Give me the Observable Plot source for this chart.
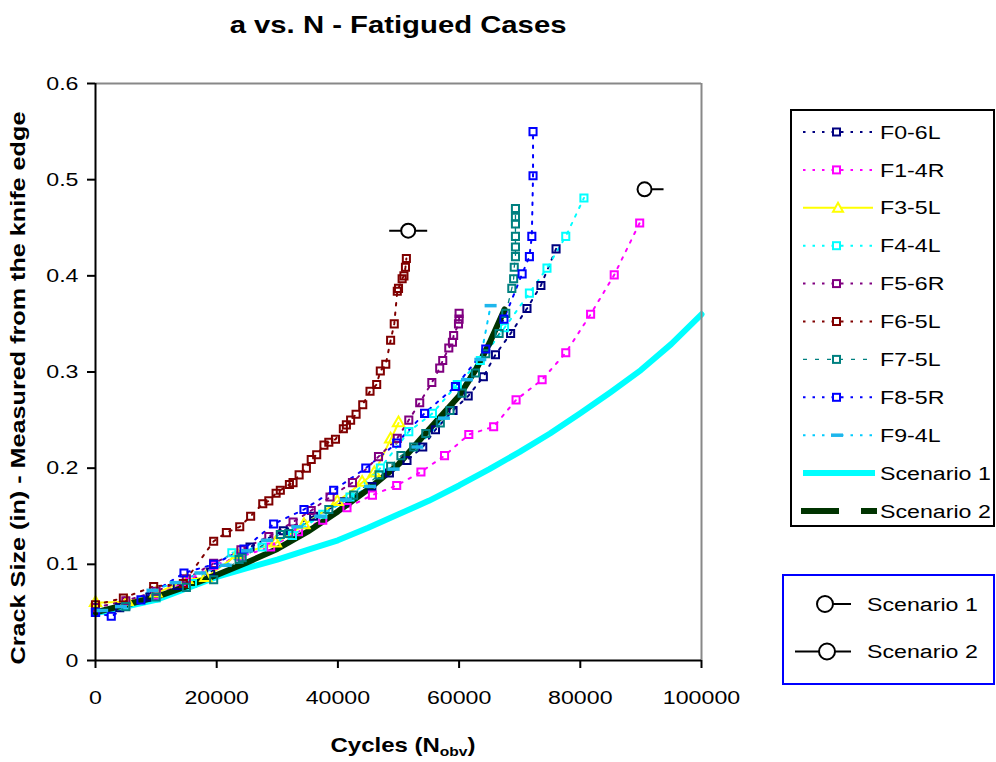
<!DOCTYPE html>
<html><head><meta charset="utf-8">
<script src="https://cdn.jsdelivr.net/npm/d3@7"></script>
<script src="https://cdn.jsdelivr.net/npm/@observablehq/plot@0.6"></script>
<style>
body{margin:0;background:#fff;font-family:"Liberation Sans",Arial,sans-serif;}
#wrap{width:996px;height:762px;position:relative;overflow:hidden;background:#fff;}
#title{height:45px;width:796px;text-align:center;box-sizing:border-box;padding-top:13px;font-size:24px;line-height:24px;font-weight:bold;color:#000;}
#title span{display:inline-block;transform:scaleX(1.22);transform-origin:center;}
#chart svg g[aria-label="x-axis tick"] path, #chart svg g[aria-label="y-axis tick"] path, #chart svg .tick line{stroke-width:2px;stroke:#000;}
</style></head>
<body><div id="wrap"><div id="title"><span>a vs. N - Fatigued Cases</span></div><div id="chart"></div></div>
<script>
// ---------- tick values ----------
const xTicks = [0, 20000, 40000, 60000, 80000, 100000];
const yTicks = [0, 0.1, 0.2, 0.3, 0.4, 0.5, 0.6];

// ---------- measured series [cycles, crack size] ----------
const F0_6L = [[0,0.05],[4000,0.055],[9000,0.066],[13500,0.078],[19000,0.092],[25500,0.118],[31000,0.135],[36000,0.15],[41000,0.165],[45600,0.181],[48500,0.195],[51400,0.208],[54000,0.222],[56100,0.24],[59000,0.26],[61500,0.275],[64000,0.295],[66000,0.318],[68500,0.34],[71200,0.366],[73500,0.39],[76000,0.428]];
const F1_4R = [[0,0.05],[5000,0.057],[10000,0.068],[15000,0.082],[19500,0.099],[24000,0.108],[28900,0.118],[33500,0.134],[37500,0.146],[41500,0.159],[45700,0.172],[49700,0.182],[53700,0.196],[57600,0.213],[61600,0.235],[65700,0.243],[69400,0.271],[73700,0.292],[77600,0.32],[81700,0.36],[85600,0.401],[89800,0.455]];
const F3_5L = [[0,0.06],[5200,0.061],[10000,0.07],[15100,0.084],[18200,0.086],[23400,0.11],[29700,0.122],[34400,0.141],[39900,0.165],[44000,0.185],[46000,0.195],[48700,0.23],[50000,0.247]];
const F4_4L = [[0,0.05],[5000,0.057],[10000,0.065],[16000,0.08],[22500,0.112],[27500,0.118],[32500,0.13],[37500,0.152],[42000,0.17],[47000,0.2],[51700,0.238],[55600,0.257],[59700,0.287],[63500,0.312],[67500,0.346],[71600,0.382],[74500,0.408],[77600,0.441],[80600,0.481]];
const F5_6R = [[0,0.055],[5000,0.062],[10000,0.072],[15000,0.085],[19500,0.101],[24000,0.115],[28600,0.129],[32600,0.144],[35600,0.156],[38700,0.17],[42400,0.185],[46700,0.212],[49800,0.231],[51700,0.25],[53500,0.268],[55500,0.289],[56800,0.304],[57300,0.312],[58300,0.325],[58900,0.331],[59100,0.338],[59900,0.35],[60000,0.355],[60000,0.361]];
const F6_5L = [[0,0.058],[4600,0.065],[9600,0.077],[14500,0.08],[19500,0.124],[21600,0.133],[23800,0.139],[25600,0.15],[27600,0.163],[28600,0.166],[29800,0.174],[30500,0.177],[32000,0.183],[32600,0.185],[33600,0.193],[34800,0.2],[35600,0.209],[36500,0.214],[37700,0.224],[38500,0.227],[39600,0.23],[40900,0.241],[41400,0.245],[42100,0.25],[43000,0.256],[44100,0.266],[45300,0.28],[46400,0.287],[47000,0.301],[47900,0.308],[48700,0.333],[49300,0.35],[49800,0.384],[50000,0.387],[50600,0.397],[50900,0.4],[51150,0.409],[51300,0.418]];
const F7_5L = [[0,0.05],[5000,0.056],[10000,0.066],[15000,0.076],[19500,0.084],[23700,0.105],[24200,0.107],[30500,0.131],[31900,0.132],[38500,0.157],[42600,0.172],[46800,0.193],[48700,0.202],[50400,0.213],[52500,0.222],[54500,0.236],[56900,0.247],[58500,0.26],[60500,0.278],[62700,0.299],[64400,0.319],[66600,0.34],[67700,0.361],[68700,0.387],[69000,0.397],[69100,0.409],[69300,0.42],[69300,0.43],[69300,0.441],[69300,0.454],[69300,0.461],[69300,0.47]];
const F8_5R = [[0,0.05],[2600,0.046],[7500,0.063],[14600,0.091],[19500,0.1],[24500,0.116],[29400,0.142],[34400,0.157],[39300,0.177],[44600,0.2],[49700,0.226],[54300,0.257],[59400,0.285],[64400,0.324],[67400,0.355],[70400,0.402],[71600,0.42],[72000,0.441],[72200,0.504],[72200,0.55]];
const F9_4L = [[1100,0.052],[4200,0.056],[9400,0.073],[13200,0.081],[17300,0.091],[21500,0.099],[25000,0.114],[28300,0.125],[33300,0.139],[37100,0.15],[41300,0.167],[45300,0.181],[49200,0.199],[53100,0.222],[57500,0.252],[61300,0.292],[63500,0.313],[65200,0.369]];

// ---------- model predictions ----------
const scenario1 = [[0,0.049],[5000,0.056],[10000,0.063],[15000,0.075],[20000,0.087],[25000,0.096],[30000,0.105],[35000,0.115],[40000,0.125],[45000,0.138],[50000,0.152],[55000,0.166],[60000,0.182],[65000,0.199],[70000,0.217],[75000,0.236],[80000,0.257],[85000,0.279],[90000,0.302],[95000,0.329],[100000,0.36]];
const scenario2 = [[0,0.05],[5000,0.058],[10000,0.066],[15000,0.077],[20000,0.089],[25000,0.102],[30000,0.116],[35000,0.134],[40000,0.155],[45000,0.178],[50000,0.204],[55000,0.24],[60000,0.275],[63000,0.305],[65000,0.33],[67500,0.365]];

// ---------- annotation symbols (scenario end markers) ----------
const scenarioMarkX = [90600, 51600];
const scenarioMarkY = [0.49, 0.447];

// ---------- names ----------
const seriesNames = ["F0-6L","F1-4R","F3-5L","F4-4L","F5-6R","F6-5L","F7-5L","F8-5R","F9-4L"];
const scenarioNames = ["Scenario 1","Scenario 2"];

// ---------- styles (kept separate from data) ----------
const seriesData = [F0_6L, F1_4R, F3_5L, F4_4L, F5_6R, F6_5L, F7_5L, F8_5R, F9_4L];
const seriesColors = ["#000080","#FF00FF","#FFFF00","#00FFFF","#800080","#800000","#008080","#0000FF","#1EB6EC"];
const seriesLineColors = ["#000080","#FF00FF","#FFFF00","#00FFFF","#800080","#800000","#008080","#0000FF","#00CCFF"];
const seriesDash = ["2.5,7","2.5,7",null,"2.5,7","2.5,7","2.5,7","4,8","2.5,7","2.5,7"];
const seriesLW = [2,2,2,2,2,2,1.3,2,2];
const seriesMarker = ["square","square","triangle","square","square","square","square","square","dash"];
const scenarioColors = ["#00FFFF","#003300"];

const dashSymbol = {draw(ctx){ctx.moveTo(-6,0);ctx.lineTo(6,0);}};
const sym1 = {draw(ctx){ctx.moveTo(7,0);ctx.arc(0,0,7,0,2*Math.PI);ctx.moveTo(7,0);ctx.lineTo(19,0);}};
const sym2 = {draw(ctx){ctx.moveTo(-19,0);ctx.lineTo(-7,0);ctx.arc(0,0,7,Math.PI,3*Math.PI);ctx.moveTo(7,0);ctx.lineTo(19,0);}};

const T = 45;
const W = 996, H = 762 - T;
const px = d => d[0], py = d => d[1];

const marks = [];
seriesData.forEach((data, i) => {
  marks.push(Plot.line(data, {x: px, y: py, stroke: seriesLineColors[i], strokeWidth: seriesLW[i], strokeDasharray: seriesDash[i] || undefined}));
});
marks.push(Plot.line(scenario1, {x: px, y: py, stroke: scenarioColors[0], strokeWidth: 6}));
marks.push(Plot.line(scenario2, {x: px, y: py, stroke: scenarioColors[1], strokeWidth: 6}));
seriesData.forEach((data, i) => {
  const m = seriesMarker[i];
  if (m === "square") marks.push(Plot.dot(data, {x: px, y: py, symbol: "square", r: 4, stroke: seriesColors[i], strokeWidth: 2, fill: "none"}));
  else if (m === "triangle") marks.push(Plot.dot(data, {x: px, y: py, symbol: "triangle", r: 4.2, stroke: seriesColors[i], strokeWidth: 2, fill: "none"}));
  else marks.push(Plot.dot(data, {x: px, y: py, symbol: dashSymbol, r: 4, stroke: seriesColors[i], strokeWidth: 3.5, fill: "none"}));
});
marks.push(Plot.dot([0], {x: () => scenarioMarkX[0], y: () => scenarioMarkY[0], symbol: sym1, r: 7, stroke: "#000", strokeWidth: 2, fill: "none"}));
marks.push(Plot.dot([0], {x: () => scenarioMarkX[1], y: () => scenarioMarkY[1], symbol: sym2, r: 7, stroke: "#000", strokeWidth: 2, fill: "none"}));
marks.push(Plot.ruleY([0.6], {stroke: "#888", strokeWidth: 2}));
marks.push(Plot.ruleX([100000], {stroke: "#888", strokeWidth: 2}));
marks.push(Plot.ruleX([0], {stroke: "#000", strokeWidth: 2}));
marks.push(Plot.ruleY([0], {stroke: "#000", strokeWidth: 2}));

const plot = Plot.plot({
  width: W, height: H,
  marginLeft: 95, marginRight: 295, marginTop: 38, marginBottom: 102,
  style: {fontFamily: '"Liberation Sans", Arial, sans-serif', fontSize: "19px", color: "#000", background: "white", overflow: "visible"},
  x: {domain: [0, 100000], ticks: xTicks, tickFormat: d => String(d), tickSize: 8, tickPadding: 22, label: null},
  y: {domain: [0, 0.6], ticks: yTicks, tickFormat: d => d === 0 ? "0" : d.toFixed(1), tickSize: 8, tickPadding: 9, label: null},
  marks
});
document.getElementById("chart").appendChild(plot);

// stretch tick label text horizontally like the original rendering
const K = 1.22;
plot.querySelectorAll("text").forEach(t => {
  const x = parseFloat(t.getAttribute("x")) || 0;
  const tr = t.getAttribute("transform") || "";
  t.setAttribute("transform", `${tr} translate(${x},0) scale(${K},1) translate(${-x},0)`.trim());
});

const svg = d3.select(plot);
const FONT = '"Liberation Sans", Arial, sans-serif';
const txt = (sel) => sel.attr("font-family", FONT).attr("fill", "#000").attr("stroke", "none");

// axis titles
const xt = svg.append("text").attr("transform", `translate(403,${752 - T}) scale(1.2,1)`)
  .attr("text-anchor", "middle").attr("font-weight", "bold").attr("font-size", 20).call(txt);
xt.append("tspan").text("Cycles (N");
xt.append("tspan").attr("font-size", 13).attr("dy", 4).text("obv");
xt.append("tspan").attr("dy", -4).text(")");
svg.append("text").attr("transform", `translate(25,${388 - T}) rotate(-90) scale(1.26,1)`)
  .attr("text-anchor", "middle").attr("font-weight", "bold").attr("font-size", 20).call(txt)
  .text("Crack Size (in) - Measured from the knife edge");

// legend 1
const lg = svg.append("g").attr("transform", `translate(0,${-T})`);
lg.append("rect").attr("x", 791).attr("y", 110).attr("width", 203).attr("height", 416).attr("fill", "white").attr("stroke", "#000").attr("stroke-width", 2);
const rowY = i => 132 + 37.9 * i;
seriesNames.forEach((name, i) => {
  const y = rowY(i);
  lg.append("line").attr("x1", 803).attr("x2", 873).attr("y1", y).attr("y2", y)
    .attr("stroke", seriesLineColors[i]).attr("stroke-width", seriesLW[i]).attr("stroke-dasharray", seriesDash[i]);
  const m = seriesMarker[i];
  if (m === "square") lg.append("rect").attr("x", 833).attr("y", y - 3.5).attr("width", 7).attr("height", 7).attr("fill", "white").attr("stroke", seriesColors[i]).attr("stroke-width", 2);
  else if (m === "triangle") lg.append("path").attr("d", `M838,${y - 5}L843,${y + 4}L833,${y + 4}Z`).attr("fill", "white").attr("stroke", seriesColors[i]).attr("stroke-width", 2);
  else lg.append("line").attr("x1", 831).attr("x2", 843).attr("y1", y).attr("y2", y).attr("stroke", seriesColors[i]).attr("stroke-width", 3.5);
  lg.append("text").attr("transform", `translate(880,${y}) scale(${K},1)`).attr("text-anchor", "start").attr("dy", "0.35em").attr("font-size", 19).call(txt).text(name);
});
scenarioNames.forEach((name, j) => {
  const y = rowY(9 + j);
  const ln = lg.append("line").attr("y1", y).attr("y2", y).attr("stroke", scenarioColors[j]).attr("stroke-width", 6);
  if (j === 0) ln.attr("x1", 803).attr("x2", 875);
  else ln.attr("x1", 801).attr("x2", 877).attr("stroke-dasharray", "38,22");
  lg.append("text").attr("transform", `translate(880,${y}) scale(${K},1)`).attr("text-anchor", "start").attr("dy", "0.35em").attr("font-size", 19).call(txt).text(name);
});

// legend 2
const lg2 = svg.append("g").attr("transform", `translate(0,${-T})`);
lg2.append("rect").attr("x", 783).attr("y", 575).attr("width", 211).attr("height", 109).attr("fill", "white").attr("stroke", "#0000FF").attr("stroke-width", 2);
const l2y = [604, 651.5];
lg2.append("circle").attr("cx", 825).attr("cy", l2y[0]).attr("r", 8).attr("fill", "none").attr("stroke", "#000").attr("stroke-width", 2);
lg2.append("line").attr("x1", 833).attr("x2", 851).attr("y1", l2y[0]).attr("y2", l2y[0]).attr("stroke", "#000").attr("stroke-width", 2);
lg2.append("line").attr("x1", 795).attr("x2", 819).attr("y1", l2y[1]).attr("y2", l2y[1]).attr("stroke", "#000").attr("stroke-width", 2);
lg2.append("circle").attr("cx", 827).attr("cy", l2y[1]).attr("r", 8).attr("fill", "none").attr("stroke", "#000").attr("stroke-width", 2);
lg2.append("line").attr("x1", 835).attr("x2", 851).attr("y1", l2y[1]).attr("y2", l2y[1]).attr("stroke", "#000").attr("stroke-width", 2);
scenarioNames.forEach((name, j) => {
  lg2.append("text").attr("transform", `translate(867,${l2y[j]}) scale(${K},1)`).attr("text-anchor", "start").attr("dy", "0.35em").attr("font-size", 19).call(txt).text(name);
});
</script>
</body></html>
